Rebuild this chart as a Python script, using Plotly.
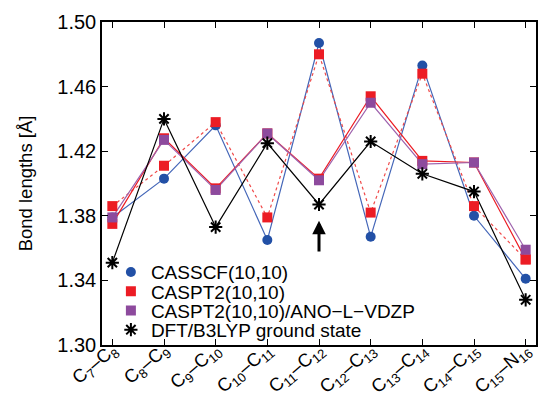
import plotly.graph_objects as go

# ---------------- data ----------------
bonds = ["C<sub>7</sub>–C<sub>8</sub>", "C<sub>8</sub>–C<sub>9</sub>", "C<sub>9</sub>–C<sub>10</sub>",
         "C<sub>10</sub>–C<sub>11</sub>", "C<sub>11</sub>–C<sub>12</sub>", "C<sub>12</sub>–C<sub>13</sub>",
         "C<sub>13</sub>–C<sub>14</sub>", "C<sub>14</sub>–C<sub>15</sub>", "C<sub>15</sub>–N<sub>16</sub>"]
casscf = [1.379, 1.403, 1.436, 1.365, 1.487, 1.367, 1.473, 1.380, 1.341]
caspt2 = [1.386, 1.411, 1.438, 1.379, 1.480, 1.382, 1.468, 1.386, 1.353]
caspt2_b = [1.375, 1.428, 1.397, 1.431, 1.403, 1.454, 1.414, 1.413, 1.353]
caspt2_ano = [1.379, 1.427, 1.396, 1.431, 1.402, 1.450, 1.412, 1.413, 1.359]
dft = [1.351, 1.440, 1.373, 1.425, 1.387, 1.426, 1.406, 1.395, 1.328]
y_ticks = [1.30, 1.34, 1.38, 1.42, 1.46, 1.50]
arrow_bond = bonds[4]
arrow_tip, arrow_base = 1.377, 1.357

FONT = "Liberation Sans, Arial, sans-serif"
BLUE = "#2250a6"
BLUE_L = "#4466b8"
RED = "#ec1c24"
RED_L = "#f04a4a"
PURPLE = "#8d4a9d"
PURPLE_L = "#9e62ad"

series = [
    # name, values, marker color, symbol, line color, dash, legend
    ("CASSCF(10,10)", casscf, BLUE, "circle", BLUE_L, "solid", "legend"),
    ("CASPT2(10,10)", caspt2, RED, "square", RED_L, "3px,3px", "legend2"),
    ("CASPT2(10,10) b", caspt2_b, RED, "square", RED, "solid", None),
    ("CASPT2(10,10)/ANO−L−VDZP", caspt2_ano, PURPLE, "square", PURPLE_L, "solid", "legend3"),
    ("DFT/B3LYP ground state", dft, "black", "asterisk-open", "black", "solid", "legend4"),
]

fig = go.Figure()
for name, vals, mc, sym, lc, dash, leg in series:
    fig.add_trace(go.Scatter(x=bonds, y=vals, mode="lines", showlegend=False,
                             line=dict(color=lc, width=1.2, dash=dash), hoverinfo="skip"))
for name, vals, mc, sym, lc, dash, leg in series:
    if sym == "asterisk-open":
        mk = dict(symbol=sym, size=11, color=mc, line=dict(color=mc, width=2))
    else:
        mk = dict(symbol=sym, size=10, color=mc, line=dict(width=0))
    kw = dict(showlegend=leg is not None)
    if leg is not None:
        kw["legend"] = leg
    fig.add_trace(go.Scatter(x=bonds, y=vals, mode="markers", name=name, marker=mk, **kw))

fig.add_annotation(x=arrow_bond, y=arrow_tip, ax=arrow_bond, ay=arrow_base,
                   xref="x", yref="y", axref="x", ayref="y", text="",
                   showarrow=True, arrowhead=2, arrowsize=0.9, arrowwidth=3, arrowcolor="black")

leg_common = dict(x=0.0205, xanchor="left", yanchor="middle", bgcolor="rgba(0,0,0,0)",
                  font=dict(family=FONT, size=19, color="black"), borderwidth=0)
legend_rows = [0.2258, 0.166, 0.1065, 0.047]

fig.update_layout(
    width=547, height=400,
    margin=dict(l=102, r=11, t=22, b=55, autoexpand=False),
    plot_bgcolor="white", paper_bgcolor="white",
    font=dict(family=FONT, size=18.5, color="black"),
    legend=dict(y=legend_rows[0], **leg_common),
    legend2=dict(y=legend_rows[1], **leg_common),
    legend3=dict(y=legend_rows[2], **leg_common),
    legend4=dict(y=legend_rows[3], **leg_common),
    xaxis=dict(type="category", range=[-0.2, 8.2], showgrid=False, zeroline=False,
               automargin=False,
               showline=True, linecolor="black", linewidth=1.5, mirror="allticks",
               ticks="inside", ticklen=6, tickcolor="black", tickwidth=1,
               tickangle=-40, ticklabelstandoff=-15, tickfont=dict(family=FONT, size=18.5)),
    yaxis=dict(range=[1.30, 1.50], tickvals=y_ticks, tickformat=".2f", showgrid=False,
               automargin=False,
               zeroline=False, showline=True, linecolor="black", linewidth=1.5,
               mirror="allticks", ticks="inside", ticklen=6, tickcolor="black", tickwidth=1,
               tickfont=dict(family=FONT, size=20),
               title=dict(text="Bond lengths [Å]", font=dict(family=FONT, size=18.5), standoff=20)),
)

fig.write_html("out.html")
